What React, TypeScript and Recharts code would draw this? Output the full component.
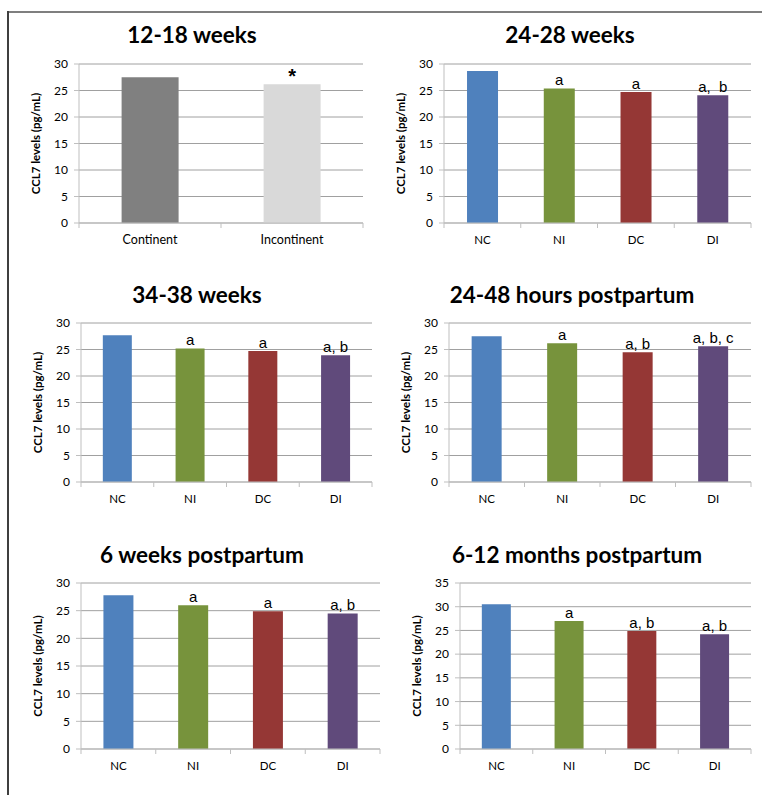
import React from "react";
import { BarChart, Bar, XAxis, YAxis, CartesianGrid, Cell, LabelList } from "recharts";

// data (CCL7, pg/mL)
const parityGroups = ["Continent", "Incontinent"];
const wk12Values = [27.5, 26.2];
const wk12Marks = ["", "*"];

const groups = ["NC", "NI", "DC", "DI"];
const wk24Values = [28.7, 25.4, 24.7, 24.1];
const wk24Marks = ["", "a", "a", "a,  b"];
const wk34Values = [27.7, 25.2, 24.7, 23.9];
const wk34Marks = ["", "a", "a", "a, b"];
const hr48Values = [27.5, 26.2, 24.5, 25.6];
const hr48Marks = ["", "a", "a, b", "a, b, c"];
const wk6ppValues = [27.8, 26.0, 24.9, 24.5];
const wk6ppMarks = ["", "a", "a", "a, b"];
const mo12Values = [30.5, 27.0, 24.9, 24.2];
const mo12Marks = ["", "a", "a, b", "a, b"];

const ticks30 = [0, 5, 10, 15, 20, 25, 30];
const ticks35 = [0, 5, 10, 15, 20, 25, 30, 35];

const grayColors = ["#808080", "#d9d9d9"];
const groupColors = ["#4f81bd", "#77933c", "#953735", "#604a7b"];

const FONT = "Lato, 'Open Sans', sans-serif";
const ARIAL = "'Liberation Sans', Arial, sans-serif";
const AXIS = "#bfbfbf";
const GRID = "#a0a0a0";

type Panel = {
  title: string;
  cats: string[];
  values: number[];
  marks: string[];
  colors: string[];
  ticks: number[];
  yLabel: string;
  plot: [number, number, number, number];
  titleX: number;
  titleY: number;
  star?: boolean;
};

const panels: Panel[] = [
  { title: "12-18 weeks", cats: parityGroups, values: wk12Values, marks: wk12Marks, colors: grayColors, ticks: ticks30, yLabel: "CCL7 levels (pg/mL)", plot: [79, 64, 363, 223], titleX: 192, titleY: 35, star: true },
  { title: "24-28 weeks", cats: groups, values: wk24Values, marks: wk24Marks, colors: groupColors, ticks: ticks30, yLabel: "CCL7 levels  (pg/mL)", plot: [444, 64, 751, 223], titleX: 570, titleY: 35 },
  { title: "34-38 weeks", cats: groups, values: wk34Values, marks: wk34Marks, colors: groupColors, ticks: ticks30, yLabel: "CCL7 levels (pg/mL)", plot: [81, 323, 372, 482], titleX: 197, titleY: 295 },
  { title: "24-48 hours postpartum", cats: groups, values: hr48Values, marks: hr48Marks, colors: groupColors, ticks: ticks30, yLabel: "CCL7 levels (pg/mL)", plot: [449, 323, 751, 482], titleX: 572, titleY: 295 },
  { title: "6 weeks postpartum", cats: groups, values: wk6ppValues, marks: wk6ppMarks, colors: groupColors, ticks: ticks30, yLabel: "CCL7 levels (pg/mL)", plot: [81, 583, 380, 749], titleX: 202, titleY: 555 },
  { title: "6-12 months postpartum", cats: groups, values: mo12Values, marks: mo12Marks, colors: groupColors, ticks: ticks35, yLabel: "CCL7 levels  (pg/mL)", plot: [460, 583, 751, 749], titleX: 577, titleY: 555 },
];

const YW = 70;
const TOP = 10;
const RIGHT = 5;
const XH = 40;

function XTick(props: any) {
  const { x, y, payload, index, visibleTicksCount, fontSize } = props;
  const off = payload?.offset ?? 0;
  const last = index === visibleTicksCount - 1;
  return (
    <g>
      <line x1={x - off} x2={x - off} y1={y} y2={y + 5} stroke={AXIS} />
      {last && <line x1={x + off} x2={x + off} y1={y} y2={y + 5} stroke={AXIS} />}
      <text x={x} y={y + 21} textAnchor="middle" fontSize={fontSize} fontFamily={FONT} fill="#000">
        {payload.value}
      </text>
    </g>
  );
}

function PanelChart({ p }: { p: Panel }) {
  const [x0, y0, x1, y1] = p.plot;
  const w = x1 - x0 + YW + RIGHT;
  const h = y1 - y0 + TOP + XH;
  const data = p.cats.map((c, i) => ({ cat: c, value: p.values[i], mark: p.marks[i] }));
  const yMax = p.ticks[p.ticks.length - 1];
  return (
    <>
      <div
        style={{
          position: "absolute",
          left: p.titleX - 200,
          width: 400,
          top: p.titleY - 15,
          height: 30,
          lineHeight: "30px",
          textAlign: "center",
          fontFamily: FONT,
          fontWeight: 700,
          fontSize: 22.5,
          color: "#000",
        }}
      >
        {p.title}
      </div>
      <div style={{ position: "absolute", left: x0 - YW, top: y0 - TOP }}>
        <BarChart width={w} height={h} data={data} margin={{ top: TOP, right: RIGHT, left: 0, bottom: 0 }} barCategoryGap="30%">
          <CartesianGrid vertical={false} stroke={GRID} strokeWidth={1} />
          <XAxis
            dataKey="cat"
            height={XH}
            stroke={AXIS}
            tickLine={false}
            tickSize={0}
            tickMargin={0}
            interval={0}
            tick={<XTick fontSize={p.star ? 12.5 : 11.5} />}
          />
          <YAxis
            width={YW}
            domain={[0, yMax]}
            ticks={p.ticks}
            interval={0}
            stroke={AXIS}
            tickSize={5}
            tickMargin={6}
            tick={{ fontSize: 12, fontFamily: FONT, fill: "#000" }}
            label={{
              content: ({ viewBox }: any) => {
                const cx = viewBox.x + viewBox.width - 44;
                const cy = viewBox.y + viewBox.height / 2;
                return (
                  <text
                    x={cx}
                    y={cy}
                    transform={`rotate(-90 ${cx} ${cy})`}
                    textAnchor="middle"
                    dominantBaseline="central"
                    fontSize={11.5}
                    fontWeight={700}
                    fontFamily={FONT}
                    fill="#000"
                  >
                    {p.yLabel}
                  </text>
                );
              },
            }}
          />
          <Bar dataKey="value" isAnimationActive={false}>
            {data.map((d, i) => (
              <Cell key={d.cat} fill={p.colors[i]} />
            ))}
            <LabelList
              dataKey="mark"
              content={(lp: any) => {
                const { x, y, width, value } = lp;
                if (!value) return null;
                return (
                  <text
                    x={x + width / 2}
                    y={p.star ? y - 1 + 12 - 12 : y - 3}
                    textAnchor="middle"
                    fontFamily={p.star ? ARIAL : ARIAL}
                    fontSize={p.star ? 20 : 15}
                    fontWeight={p.star ? 700 : 400}
                    fill="#000"
                    style={{ whiteSpace: "pre" }}
                  >
                    {value}
                  </text>
                );
              }}
            />
          </Bar>
        </BarChart>
      </div>
    </>
  );
}

export default function App() {
  return (
    <div style={{ position: "absolute", left: 0, top: 0, width: 762, height: 795, background: "#fff", overflow: "hidden" }}>
      <div style={{ position: "absolute", left: 8, top: 11, width: 754, height: 0, borderTop: "2px solid #7f7f7f" }} />
      <div style={{ position: "absolute", left: 7, top: 11, width: 0, height: 784, borderLeft: "2px solid #3f3f3f" }} />
      {panels.map((p) => (
        <PanelChart key={p.title} p={p} />
      ))}
    </div>
  );
}
